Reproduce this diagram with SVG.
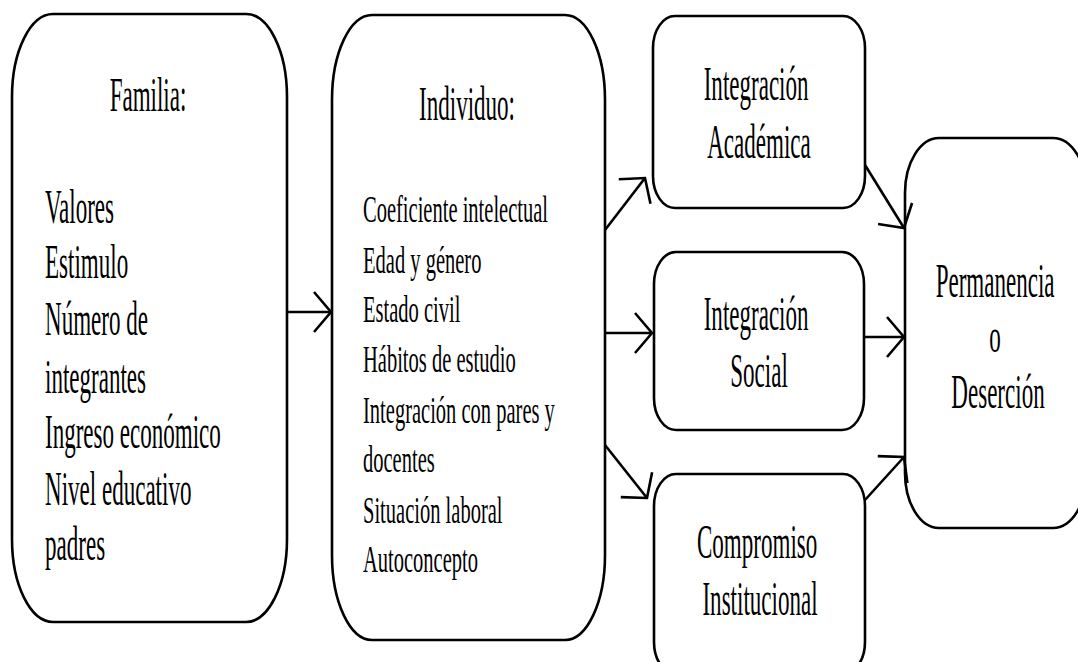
<svg xmlns="http://www.w3.org/2000/svg" width="1078" height="662" viewBox="0 0 1078 662">
<defs>
<style>
.box{fill:#fff;stroke:#000;stroke-width:2.6}
.t{font-size:48px;fill:#000}
.s{font-size:38px;fill:#000}
.c{text-anchor:middle}
.edge{fill:none;stroke:#000;stroke-width:2.6;marker-end:url(#arr)}
</style>
<marker id="arr" markerUnits="userSpaceOnUse" markerWidth="40" markerHeight="50" refX="0" refY="0" viewBox="-20 -25 40 50" orient="auto" overflow="visible">
<path d="M-17,-20 L0,0 L-17,20" fill="none" stroke="#000" stroke-width="2.6" stroke-linejoin="miter"/>
</marker>
</defs>
<rect width="1078" height="662" fill="#fff"/>
<g font-family="'Liberation Serif', 'DejaVu Serif', serif">
<g id="familia">
<rect class="box" x="12" y="14" width="275" height="608" rx="41" ry="83"/>
<text class="t c" transform="translate(148,111) scale(0.48,1)" x="0" y="0">Familia:</text>
<text class="t" transform="translate(45,0) scale(0.48,1)">
<tspan x="0" y="223">Valores</tspan>
<tspan x="0" y="278">Estimulo</tspan>
<tspan x="0" y="335">Número de</tspan>
<tspan x="0" y="393">integrantes</tspan>
<tspan x="0" y="448">Ingreso económico</tspan>
<tspan x="0" y="505">Nivel educativo</tspan>
<tspan x="0" y="560">padres</tspan>
</text>
</g>
<g id="individuo">
<rect class="box" x="332" y="15" width="273" height="625" rx="40" ry="85"/>
<text class="t c" transform="translate(467,120) scale(0.48,1)" x="0" y="0">Individuo:</text>
<text class="s" transform="translate(363,0) scale(0.54,1)">
<tspan x="0" y="222">Coeficiente intelectual</tspan>
<tspan x="0" y="273">Edad y género</tspan>
<tspan x="0" y="322">Estado civil</tspan>
<tspan x="0" y="372">Hábitos de estudio</tspan>
<tspan x="0" y="423">Integración con pares y</tspan>
<tspan x="0" y="472">docentes</tspan>
<tspan x="0" y="523">Situación laboral</tspan>
<tspan x="0" y="572">Autoconcepto</tspan>
</text>
</g>
<g id="academica">
<rect class="box" x="653" y="16" width="212" height="192" rx="22" ry="32"/>
<text class="t c" transform="translate(759,0) scale(0.48,1)">
<tspan x="0" y="100">Integración</tspan>
<tspan x="0" y="158">Académica</tspan>
</text>
</g>
<g id="social">
<rect class="box" x="654" y="252" width="210" height="178" rx="22" ry="32"/>
<text class="t c" transform="translate(759,0) scale(0.48,1)">
<tspan x="0" y="330">Integración</tspan>
<tspan x="0" y="387">Social</tspan>
</text>
</g>
<g id="compromiso">
<rect class="box" x="654" y="474" width="211" height="200" rx="22" ry="32"/>
<text class="t c" transform="translate(760,0) scale(0.48,1)">
<tspan x="0" y="558">Compromiso</tspan>
<tspan x="0" y="615">Institucional</tspan>
</text>
</g>
<g id="permanencia">
<rect class="box" x="905" y="138" width="182" height="390" rx="34" ry="55"/>
<text class="t c" transform="translate(998,0) scale(0.48,1)">
<tspan x="0" y="297">Permanencia</tspan>
<tspan x="0" y="352">o</tspan>
<tspan x="0" y="408">Deserción</tspan>
</text>
</g>
</g>
<g id="connectors">
<line class="edge" x1="287" y1="312" x2="331" y2="312"/>
<line class="edge" x1="605" y1="230" x2="645" y2="178"/>
<line class="edge" x1="605" y1="333" x2="652" y2="333"/>
<line class="edge" x1="605" y1="445" x2="647" y2="498"/>
<line class="edge" x1="865" y1="165" x2="904" y2="228"/>
<line class="edge" x1="865" y1="337" x2="904" y2="337"/>
<line class="edge" x1="865" y1="500" x2="904" y2="457"/>
</g>
</svg>
